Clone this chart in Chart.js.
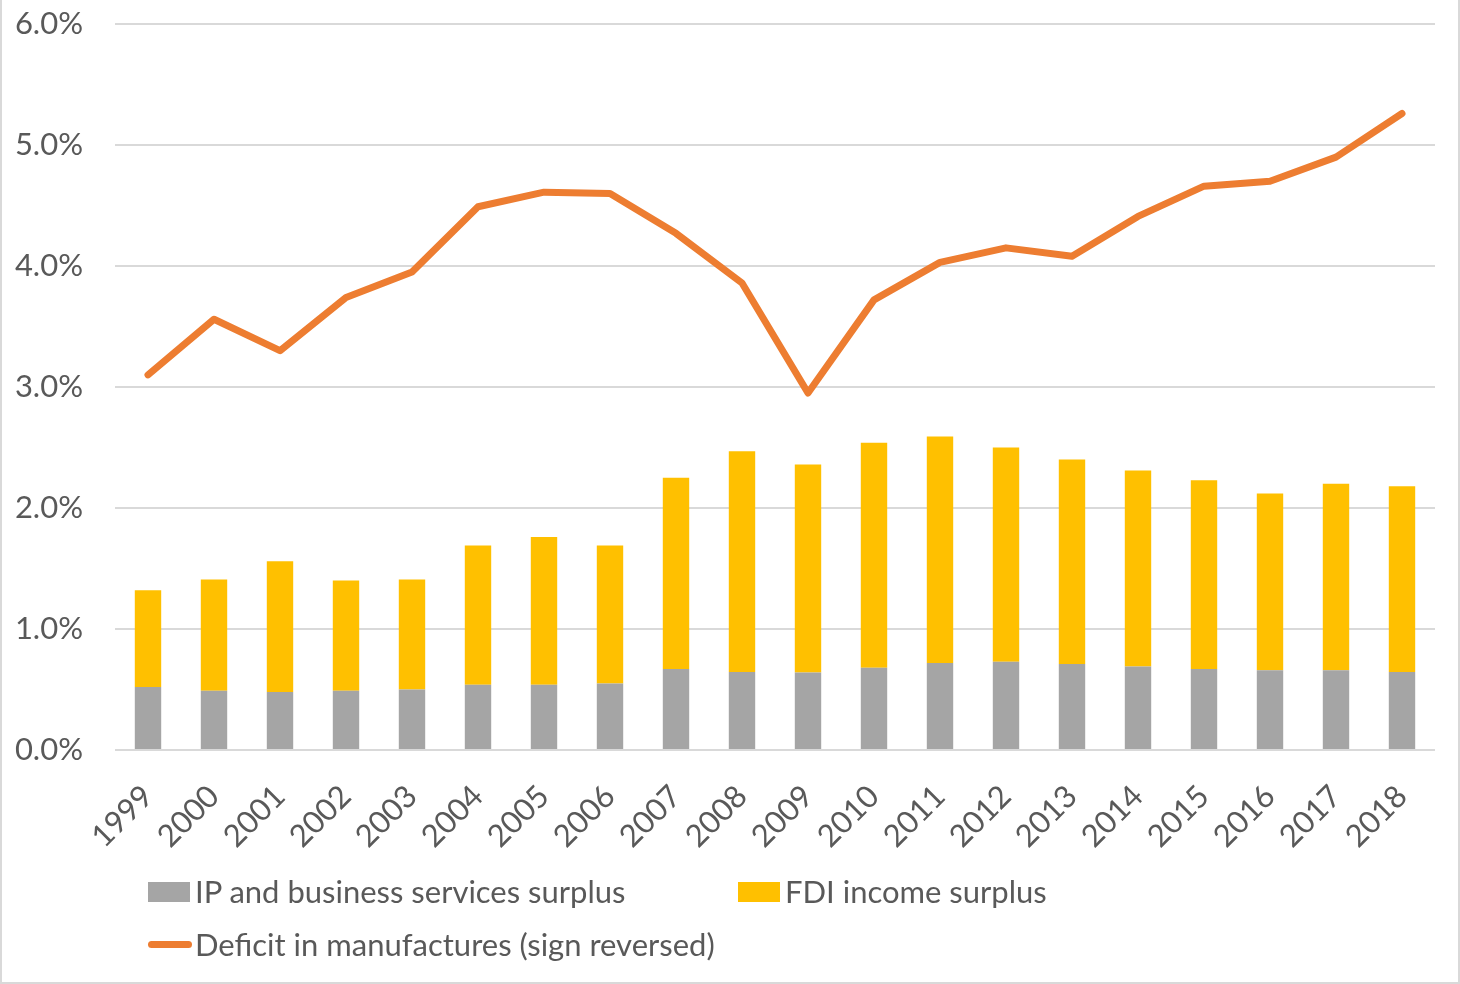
<!DOCTYPE html>
<html>
<head>
<meta charset="utf-8">
<script src="https://cdn.jsdelivr.net/npm/chart.js@4.4.0/dist/chart.umd.min.js"></script>
<style>
  body { margin: 0; background: #fff; }
  .chart-container { position: relative; width: 1460px; height: 984px; overflow: hidden; }
  .frame { position: absolute; left: 0; top: -3px; width: 1460px; height: 987px; box-sizing: border-box; border: 2px solid #d9d9d9; pointer-events: none; }
  .legend-item { position: absolute; font-family: Lato, sans-serif; font-size: 31px; color: #595959; white-space: nowrap; line-height: 1; }
  .swatch { position: absolute; }
</style>
</head>
<body>
<div class="chart-container">
  <canvas id="chart" width="1460" height="984"></canvas>
  <div id="legend"></div>
  <div class="frame"></div>
</div>
<script>
// datos (% del PIB)
const years = ["1999", "2000", "2001", "2002", "2003", "2004", "2005", "2006", "2007", "2008",
  "2009", "2010", "2011", "2012", "2013", "2014", "2015", "2016", "2017", "2018"];
const ipServices = [0.52, 0.49, 0.48, 0.49, 0.50, 0.54, 0.54, 0.55, 0.67, 0.645,
  0.64, 0.68, 0.72, 0.73, 0.71, 0.69, 0.67, 0.66, 0.66, 0.645];
const fdiIncome = [0.80, 0.92, 1.08, 0.91, 0.91, 1.15, 1.22, 1.14, 1.58, 1.825,
  1.72, 1.86, 1.87, 1.77, 1.69, 1.62, 1.56, 1.46, 1.54, 1.535];
const manufDeficit = [3.10, 3.56, 3.30, 3.74, 3.95, 4.49, 4.61, 4.60, 4.27, 3.86,
  2.95, 3.72, 4.03, 4.15, 4.08, 4.41, 4.66, 4.70, 4.90, 5.26];
const yTicks = [0, 1, 2, 3, 4, 5, 6];

const GRAY = "#A5A5A5";
const YELLOW = "#FFC000";
const ORANGE = "#ED7D31";
const TEXT = "#595959";
const FONT = { family: "Lato", size: 31 };

const data = {
  labels: years,
  datasets: [
    {
      type: "line",
      label: "Deficit in manufactures (sign reversed)",
      data: manufDeficit,
      borderColor: ORANGE,
      backgroundColor: ORANGE,
      borderWidth: 7,
      pointRadius: 0,
      borderCapStyle: "round",
      borderJoinStyle: "round",
      tension: 0,
      stack: "line",
      order: 0,
    },
    {
      type: "bar",
      label: "IP and business services surplus",
      data: ipServices,
      backgroundColor: GRAY,
      stack: "bars",
      order: 1,
    },
    {
      type: "bar",
      label: "FDI income surplus",
      data: fdiIncome,
      backgroundColor: YELLOW,
      stack: "bars",
      order: 2,
    },
  ],
};

const options = {
  responsive: false,
  animation: false,
  layout: { padding: { top: 24, right: 25, bottom: 134, left: 0 } },
  plugins: {
    legend: { display: false },
    tooltip: { enabled: false },
  },
  scales: {
    x: {
      stacked: true,
      offset: true,
      grid: { display: false },
      border: { display: false },
      ticks: {
        minRotation: 45,
        maxRotation: 45,
        padding: 20,
        color: TEXT,
        font: FONT,
      },
      afterFit: (scale) => { scale.height = 100; },
    },
    y: {
      stacked: true,
      min: yTicks[0],
      max: yTicks[yTicks.length - 1],
      afterBuildTicks: (scale) => { scale.ticks = yTicks.map((v) => ({ value: v })); },
      grid: { color: "#d9d9d9", lineWidth: 2, drawTicks: false },
      border: { display: false },
      ticks: {
        padding: 32,
        color: TEXT,
        font: FONT,
        callback: (v) => v.toFixed(1) + "%",
      },
      afterFit: (scale) => {
        scale.width = 115;
        scale.paddingTop = 0;
        scale.paddingBottom = 0;
      },
    },
  },
};

data.datasets.forEach((ds) => {
  if (ds.type === "bar") {
    ds.categoryPercentage = 1;
    ds.barPercentage = 0.4;
  }
});

const chart = new Chart(document.getElementById("chart"), { data: data, options: options });

// leyenda en HTML, dos columnas como en el original
const legendPos = [
  { ds: 1, x: 148, y: 882, kind: "box" },
  { ds: 2, x: 738, y: 882, kind: "box" },
  { ds: 0, x: 148, y: 935, kind: "line" },
];
const legendEl = document.getElementById("legend");
legendPos.forEach((p) => {
  const ds = chart.data.datasets[p.ds];
  const sw = document.createElement("div");
  sw.className = "swatch";
  if (p.kind === "box") {
    Object.assign(sw.style, { left: p.x + "px", top: p.y + "px", width: "42px", height: "20px", background: ds.backgroundColor });
  } else {
    Object.assign(sw.style, { left: p.x + "px", top: (p.y + 6) + "px", width: "44px", height: "7px", borderRadius: "4px", background: ds.borderColor });
  }
  legendEl.appendChild(sw);
  const tx = document.createElement("div");
  tx.className = "legend-item";
  tx.textContent = ds.label;
  tx.style.left = (p.x + 47) + "px";
  tx.style.top = (p.y - 6) + "px";
  legendEl.appendChild(tx);
});
</script>
</body>
</html>
